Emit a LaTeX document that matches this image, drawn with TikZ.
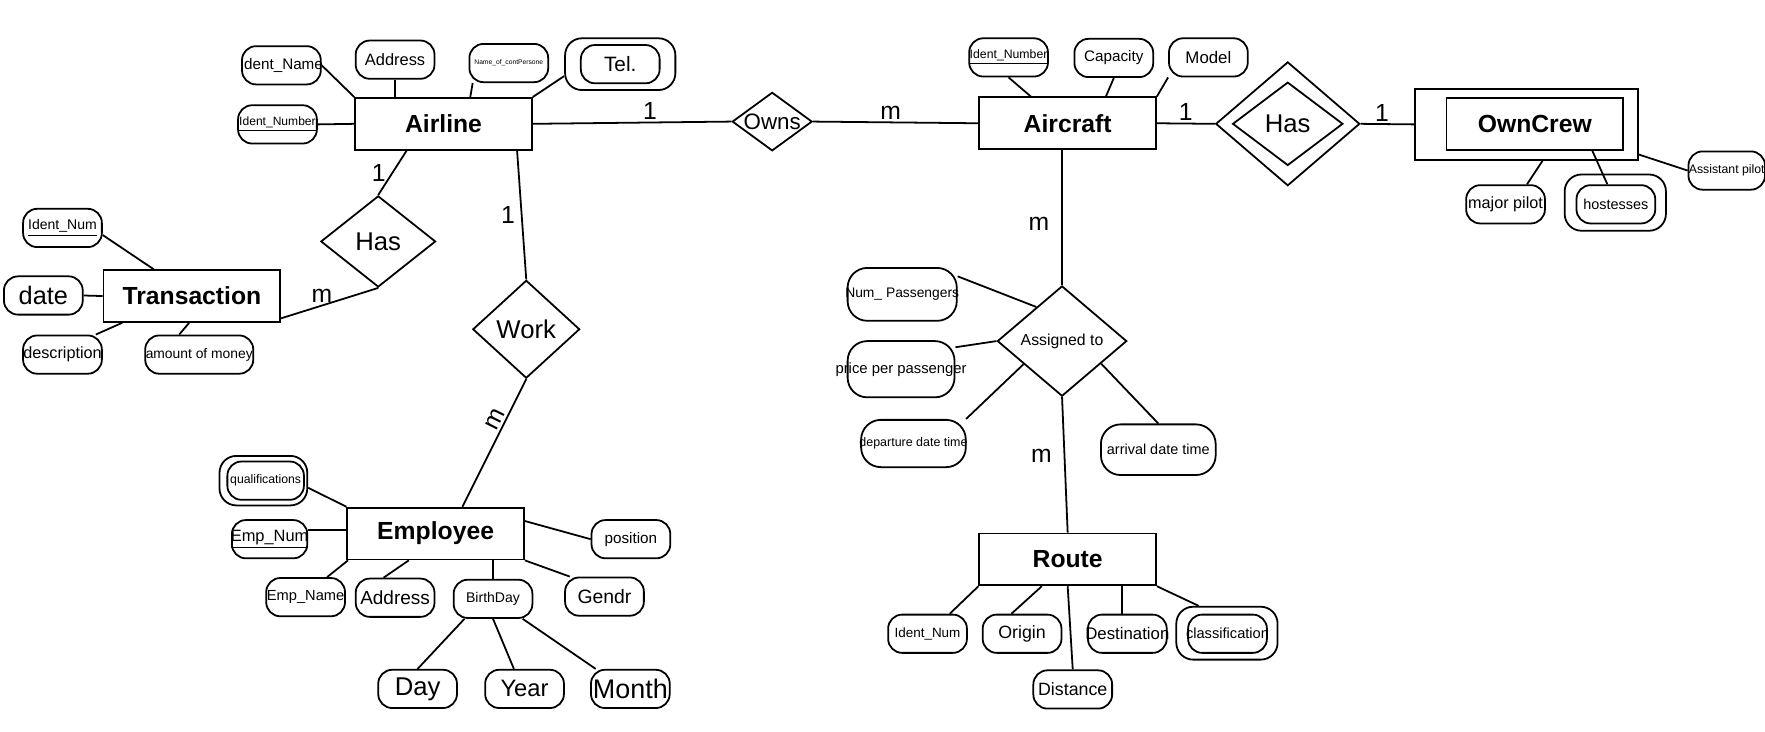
\documentclass[tikz,border=0pt]{standalone}
\usepackage{fontspec}
\setmainfont{Liberation Sans}
\usetikzlibrary{shapes.geometric}
\newcommand{\erfs}[1]{\fontsize{#1}{#1}\selectfont}
\newcommand{\ovtext}[1]{\makebox[0pt]{#1}}

\begin{document}
\begin{tikzpicture}[x=0.02cm, y=-0.02cm, line width=0.9pt,
  ent/.style={draw, rectangle, minimum width=3.14cm, minimum height=0.92cm, inner sep=0pt, font=\erfs{12.5}\bfseries},
  rel/.style={draw, diamond, inner sep=0pt, label={[font=\erfs{13}, inner sep=0pt]center:#1}},
  attr/.style={draw, rounded corners=0.25cm, minimum width=1.4cm, minimum height=0.68cm, inner sep=0pt, font=\erfs{7.4}},
  attrring/.style={draw, rounded corners=0.3cm, inner sep=0pt},
  card/.style={font=\erfs{12.5}, inner sep=1pt}]
  \useasboundingbox (0,0) rectangle (1568,650);

  % airline
  \node[ent] (airline) at (394,110) {Airline};
  \node[attr, font=\erfs{7.7}] (identname) at (250,58) {\ovtext{Ident\_Name}};
  \node[attr, font=\erfs{8.3}] (addressa) at (351,53) {Address};
  \node[attr, font=\erfs{3.4}] (contperson) at (452,56) {Name\_of\_contPersone};
  \node[attrring, minimum width=1.96cm, minimum height=0.92cm] (telo) at (551,57) {};
  \node[attr, font=\erfs{10.5}] (tel) at (551,57) {Tel.};
  \node[attr, font=\erfs{6.1}] (identnuma) at (246.5,110.5) {\underline{Ident\_Number}};
  \draw (identname.east) -- (airline.north west);
  \draw (addressa.south) -- (addressa.south |- airline.north);
  \draw (contperson.209) -- (airline.45);
  \draw (telo.192) -- (airline.north east);
  \draw (identnuma.east) -- (airline.west);

  % owns
  \node[rel={\erfs{11.3}Owns}, minimum width=1.42cm, minimum height=1.04cm] (owns) at (686,108) {};
  \node[ent] (aircraft) at (948.5,109.5) {Aircraft};
  \draw (airline.east) -- node[card, pos=.59, above] {1} (owns.west);
  \draw (owns.east) -- node[card, pos=.47, above] {m} (aircraft.west);

  % aircraft
  \node[attr, font=\erfs{6.2}] (identnumc) at (896,51) {\underline{Ident\_Number}};
  \node[attr, font=\erfs{7.7}] (capacity) at (989.5,51.5) {Capacity};
  \node[attr, font=\erfs{8.5}] (model) at (1073.5,51) {Model};
  \draw (identnumc.south) -- (aircraft.144);
  \draw (capacity.south) -- (aircraft.35);
  \draw (model.south west) -- (aircraft.north east);

  % has (weak)
  \node[draw, diamond, minimum width=2.56cm, minimum height=2.2cm, inner sep=0pt] (hasco) at (1144,110) {};
  \node[rel=Has, minimum width=1.96cm, minimum height=1.48cm] (hasc) at (1144,110) {};
  \node[draw, minimum width=3.96cm, minimum height=1.26cm, inner sep=0pt] (owncrewo) at (1356,110.5) {};
  \node[ent] (owncrew) at (1363.5,110) {OwnCrew};
  \draw (aircraft.east) -- node[card, above] {1} (hasco.west);
  \draw (hasco.east) -- node[card, pos=.4, above] {1} (owncrewo.west);

  % owncrew
  \node[attr, font=\erfs{8.2}] (majorpilot) at (1337.5,181.5) {major pilot};
  \node[attrring, minimum width=1.8cm, minimum height=1cm] (hostesseso) at (1435,180) {};
  \node[attr, font=\erfs{7.3}] (hostesses) at (1435.5,181.5) {hostesses};
  \node[attr, minimum width=1.36cm, font=\erfs{6.2}] (asstpilot) at (1534,151.5) {Assistant pilot};
  \draw (majorpilot.43) -- (owncrewo.-66);
  \draw (hostesses.113) -- (owncrew.-25);
  \draw (asstpilot.west) -- (owncrewo.-15);

  % assigned to
  \node[rel={\erfs{8}Assigned to}, minimum width=2.3cm, minimum height=1.96cm] (assigned) at (943.5,303) {};
  \draw (aircraft.south -| assigned.north) -- node[card, pos=.55, left=5pt] {m} (assigned.north);
  \node[attr, minimum width=1.94cm, minimum height=0.94cm, rounded corners=0.35cm, font=\erfs{7}] (numpass) at (801.5,261.5) {\ovtext{Num\_ Passengers}};
  \node[attr, minimum width=1.9cm, minimum height=1cm, rounded corners=0.35cm, font=\erfs{7.5}] (price) at (800.5,328) {\ovtext{price per passenger}};
  \node[attr, minimum width=1.86cm, minimum height=0.84cm, rounded corners=0.35cm, font=\erfs{6.3}] (departure) at (811.5,394) {\ovtext{departure date time}};
  \node[attr, minimum width=2.04cm, minimum height=0.9cm, rounded corners=0.35cm, font=\erfs{7.3}] (arrival) at (1029,399.5) {arrival date time};
  \draw (numpass.18) -- (assigned.127);
  \draw (price.22) -- (assigned.west);
  \draw (departure.25) -- (assigned.211);
  \draw (arrival.north) -- (assigned.-30);

  % route
  \node[ent] (route) at (948.5,497) {Route};
  \node[attr, font=\erfs{6.8}] (identnumr) at (824,563) {Ident\_Num};
  \node[attr, font=\erfs{9}] (origin) at (908,563) {Origin};
  \node[attr, font=\erfs{9}] (distance) at (953,612.5) {Distance};
  \node[attr, font=\erfs{8.5}] (destination) at (1001.5,563) {\ovtext{Destination}};
  \node[attrring, minimum width=1.8cm, minimum height=0.94cm] (classifo) at (1090,562.5) {};
  \node[attr, font=\erfs{7.4}] (classif) at (1090.5,563) {\ovtext{classification}};
  \draw (assigned.south) -- node[card, pos=.43, left=5pt] {m} (route.north);
  \draw (identnumr.42) -- (route.south west);
  \draw (origin.118) -- (route.226);
  \draw (route.south) -- (distance.north);
  \draw (destination.105) -- (destination.105 |- route.south);
  \draw (route.south east) -- (classifo.136);

  % transaction
  \node[rel=Has, minimum width=2.04cm, minimum height=1.62cm] (hast) at (336,214.5) {};
  \node[ent] (transaction) at (170.5,263) {Transaction};
  \node[attr, font=\erfs{7.1}] (identnumt) at (55.5,202.5) {\underline{Ident\_Num}};
  \node[attr, font=\erfs{12.8}] (date) at (38.5,262.5) {date};
  \node[attr, font=\erfs{8.2}] (description) at (55.5,315) {\ovtext{description}};
  \node[attr, minimum width=1.92cm, font=\erfs{7}] (amount) at (177,315) {amount of money};
  \draw (airline.216) -- node[card, left=2pt] {1} (hast.north);
  \draw (hast.south) -- node[card, pos=.58, above] {m} (transaction.-14);
  \draw (identnumt.-10) -- (transaction.145);
  \draw (date.east) -- (transaction.west);
  \draw (description.31) -- (transaction.201);
  \draw (amount.135) -- (transaction.-96);

  % work
  \node[rel=Work, minimum width=1.9cm, minimum height=1.74cm] (work) at (467.5,292.5) {};
  \node[ent] (employee) at (387,474) {Employee};
  \draw (airline.-20) -- node[card, left=2pt] {1} (work.north);
  \draw (work.south) -- node[card, pos=.35, sloped, above] {m} (employee.45);

  % employee
  \node[attrring, minimum width=1.56cm, minimum height=0.88cm] (qualifo) at (234,427) {};
  \node[attr, minimum width=1.36cm, font=\erfs{6.2}] (qualif) at (236,427) {qualifications};
  \node[attr, minimum width=1.34cm, font=\erfs{8.3}] (empnum) at (239.5,479) {\ovtext{\underline{Emp\_Num}}};
  \node[attr, font=\erfs{7.4}] (empname) at (271.5,530.5) {\ovtext{Emp\_Name}};
  \node[attr, font=\erfs{9.6}] (addresse) at (351,531) {Address};
  \node[attr, font=\erfs{7.1}] (birthday) at (438,532) {BirthDay};
  \node[attr, font=\erfs{7.7}] (position) at (560.5,479) {position};
  \node[attr, font=\erfs{9.8}] (gendr) at (537,530) {Gendr};
  \node[attr, font=\erfs{13}] (day) at (371,612) {Day};
  \node[attr, font=\erfs{12}] (year) at (466,612) {Year};
  \node[attr, font=\erfs{13.6}] (month) at (560,612) {Month};
  \draw (qualifo.-9) -- (employee.north west);
  \draw (empnum.13) -- (empnum.13 -| employee.west);
  \draw (empname.43) -- (employee.197);
  \draw (addresse.120) -- (employee.225);
  \draw (birthday.north) -- (birthday.north |- employee.south);
  \draw (position.west) -- (employee.8);
  \draw (gendr.150) -- (employee.south east);
  \draw (birthday.215) -- (day.north);
  \draw (birthday.south) -- (year.118);
  \draw (birthday.-34) -- (month.150);
\end{tikzpicture}
\end{document}
